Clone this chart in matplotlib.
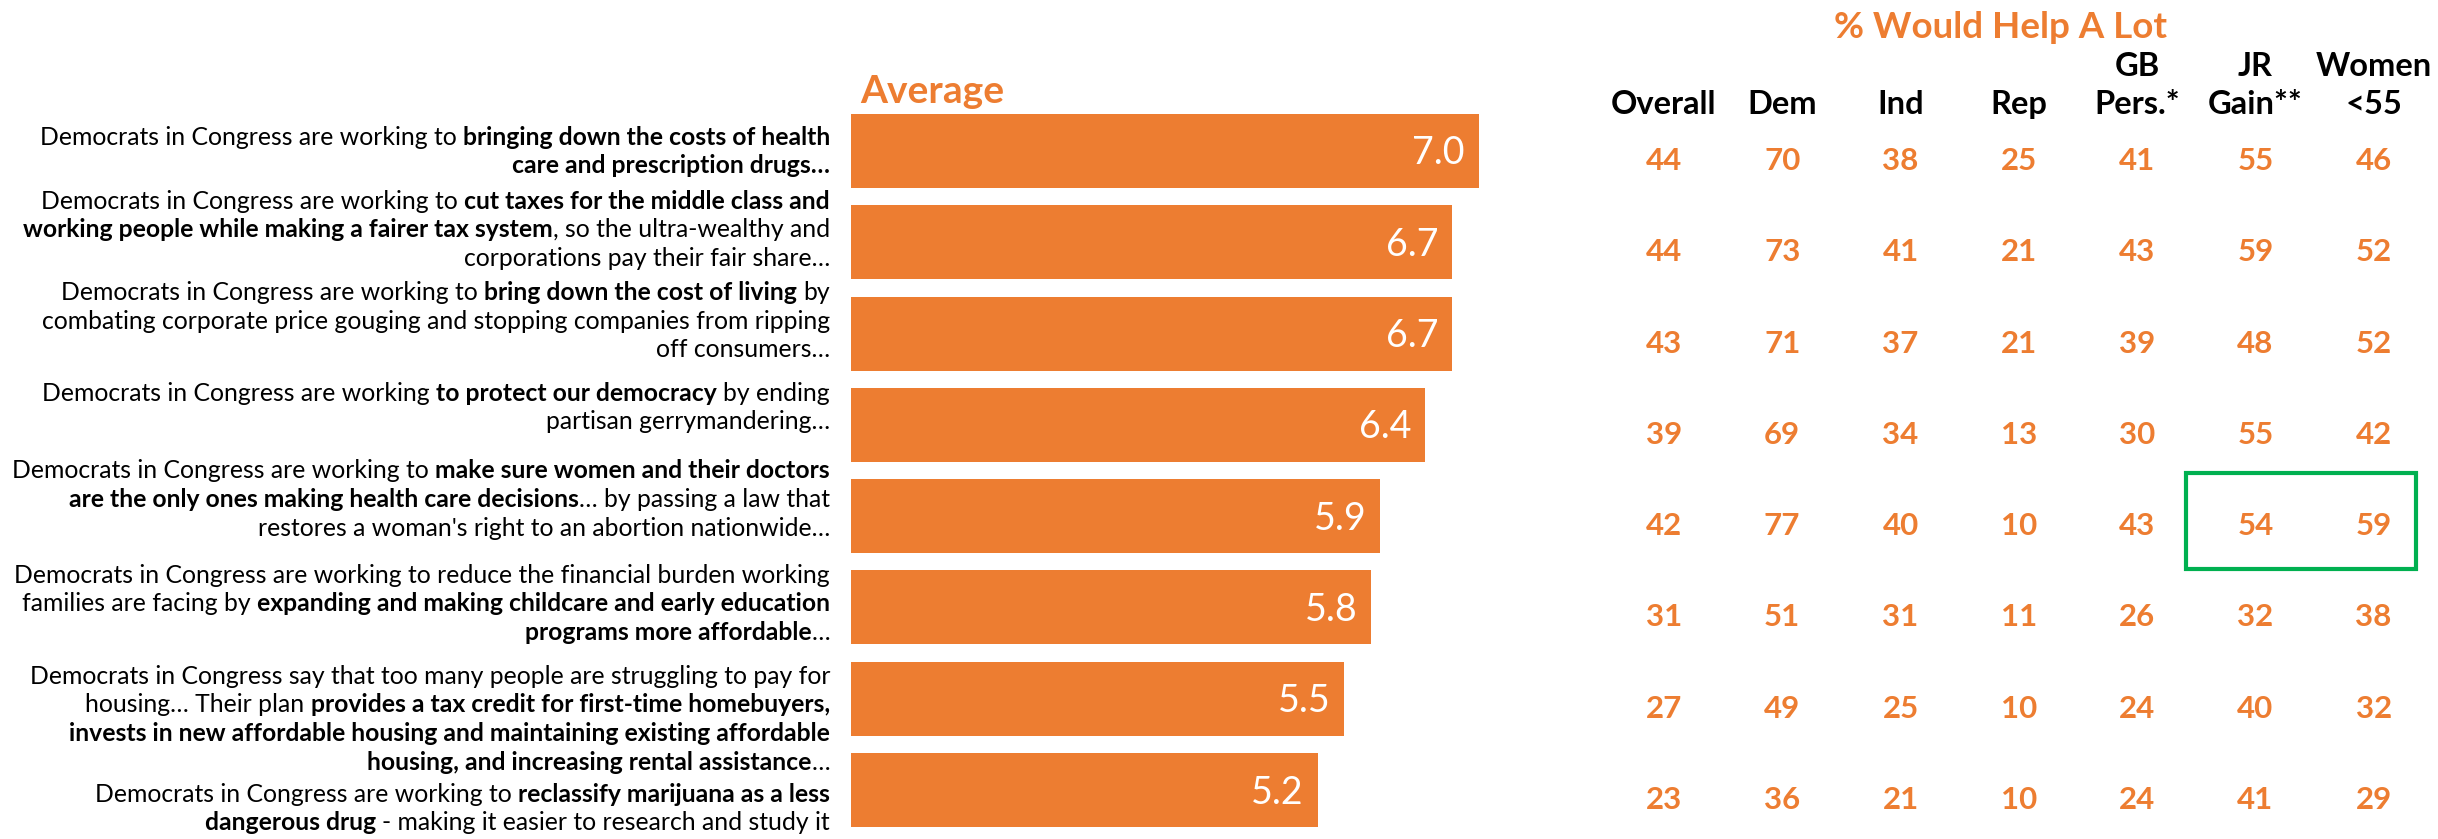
import numpy as np
import matplotlib
matplotlib.use('Agg')
import matplotlib.pyplot as plt
import matplotlib.transforms as mtransforms
from matplotlib.patches import Rectangle

plt.rcParams['font.family'] = ['Lato', 'DejaVu Sans']

# statements (** marks the bold part), one list of lines per bar
labels = [
    ["Democrats in Congress are working to **bringing down the costs of health**",
     "**care and prescription drugs…**"],
    ["Democrats in Congress are working to **cut taxes for the middle class and**",
     "**working people while making a fairer tax system**, so the ultra-wealthy and",
     "corporations pay their fair share…"],
    ["Democrats in Congress are working to **bring down the cost of living** by",
     "combating corporate price gouging and stopping companies from ripping",
     "off consumers…"],
    ["Democrats in Congress are working **to protect our democracy** by ending",
     "partisan gerrymandering…"],
    ["Democrats in Congress are working to **make sure women and their doctors**",
     "**are the only ones making health care decisions**… by passing a law that",
     "restores a woman's right to an abortion nationwide…"],
    ["Democrats in Congress are working to reduce the financial burden working",
     "families are facing by **expanding and making childcare and early education**",
     "**programs more affordable**…"],
    ["Democrats in Congress say that too many people are struggling to pay for",
     "housing… Their plan **provides a tax credit for first-time homebuyers,**",
     "**invests in new affordable housing and maintaining existing affordable**",
     "**housing, and increasing rental assistance**…"],
    ["Democrats in Congress are working to **reclassify marijuana as a less**",
     "**dangerous drug** - making it easier to research and study it"],
]

averages = [7.0, 6.7, 6.7, 6.4, 5.9, 5.8, 5.5, 5.2]

col_top = ["", "", "", "", "GB", "JR", "Women"]
col_bottom = ["Overall", "Dem", "Ind", "Rep", "Pers.*", "Gain**", "<55"]

overall = [44, 44, 43, 39, 42, 31, 27, 23]
dem = [70, 73, 71, 69, 77, 51, 49, 36]
ind = [38, 41, 37, 34, 40, 31, 25, 21]
rep = [25, 21, 21, 13, 10, 11, 10, 10]
gb_pers = [41, 43, 39, 30, 43, 26, 24, 24]
jr_gain = [55, 59, 48, 55, 54, 32, 40, 41]
women_u55 = [46, 52, 52, 42, 59, 38, 32, 29]

highlight_row = 4
highlight_cols = (5, 6)

ORANGE = '#ED7D31'
GREEN = '#00B050'

# vertical nudge of each label block (pixels, down is positive)
label_shift = [1, -12, -12, -17, -16, -3, 21, 19]
line_gap = 28.7
label_size = 17.8

W, H = 2438, 839
fig = plt.figure(figsize=(W / 100, H / 100), dpi=100)
renderer = fig.canvas.get_renderer()

n = len(averages)
rows = np.arange(n)
bottom, height = 3.35 / H, 730.3 / H

ax = fig.add_axes([851 / W, bottom, 628 / W, height])
ax.barh(rows, averages, height=0.81, color=ORANGE)
ax.set_xlim(0, 7.0)
ax.set_ylim(n - 0.5, -0.5)
ax.axis('off')

for i, v in enumerate(averages):
    ax.annotate(f'{v:.1f}', xy=(v, i), xytext=(-14, -13.5), textcoords='offset pixels',
                ha='right', va='baseline', color='white', fontsize=27)

ax.annotate('Average', xy=(0, 1), xycoords='axes fraction', xytext=(9, 2),
            textcoords='offset pixels', ha='left', va='baseline',
            color=ORANGE, fontsize=28, fontweight='bold')


def text_width(s, weight):
    t = fig.text(0, 0, s, fontsize=label_size, fontweight=weight)
    w = t.get_window_extent(renderer).width
    t.remove()
    return w


space_w = {w: text_width('x x', w) - text_width('xx', w) for w in ('normal', 'bold')}
base = mtransforms.blended_transform_factory(ax.transAxes, ax.transData)


def rich_line(line, row, dy):
    parts = line.split('**')
    segs = [(p, i % 2 == 1) for i, p in enumerate(parts) if p]
    x = 21
    for s, bold in reversed(segs):
        weight = 'bold' if bold else 'normal'
        n_trail = len(s) - len(s.rstrip(' '))
        n_lead = len(s) - len(s.lstrip(' '))
        x += n_trail * space_w[weight]
        tr = mtransforms.offset_copy(base, fig=fig, x=-x, y=-dy, units='dots')
        t = ax.text(0, row, s.strip(' '), transform=tr, ha='right', va='baseline',
                    fontsize=label_size, fontweight=weight, color='black')
        x += t.get_window_extent(renderer).width + n_lead * space_w[weight]


for i, lines in enumerate(labels):
    k = len(lines)
    for j, line in enumerate(lines):
        dy = label_shift[i] + (j - (k - 1) / 2) * line_gap + 7
        rich_line(line, i, dy)

# table of % would help a lot
tax = fig.add_axes([1604.8 / W, bottom, 828 / W, height])
tax.set_xlim(-0.5, 6.5)
tax.set_ylim(n - 0.5, -0.5)
tax.axis('off')

table = [overall, dem, ind, rep, gb_pers, jr_gain, women_u55]
for c, col in enumerate(table):
    for r, v in enumerate(col):
        tax.annotate(str(v), xy=(c, r), xytext=(0, -19), textcoords='offset pixels',
                     ha='center', va='baseline', color=ORANGE, fontsize=22.5,
                     fontweight='bold')

top_tr = mtransforms.blended_transform_factory(tax.transData, tax.transAxes)
for c in range(len(col_bottom)):
    tax.annotate(col_bottom[c], xy=(c, 1), xycoords=top_tr, xytext=(0, -9),
                 textcoords='offset pixels', ha='center', va='baseline',
                 fontsize=23.5, fontweight='bold', color='black')
    if col_top[c]:
        tax.annotate(col_top[c], xy=(c, 1), xycoords=top_tr, xytext=(0, 29),
                     textcoords='offset pixels', ha='center', va='baseline',
                     fontsize=23.5, fontweight='bold', color='black')

tax.annotate('% Would Help A Lot', xy=(0.4785, 1), xycoords='axes fraction',
             xytext=(0, 67), textcoords='offset pixels', ha='center', va='baseline',
             color=ORANGE, fontsize=26.5, fontweight='bold')

c0, c1 = highlight_cols
tax.add_patch(Rectangle((c0 - 0.59, highlight_row - 0.47), c1 - c0 + 0.95, 1.05,
                        fill=False, edgecolor=GREEN, linewidth=3, clip_on=False))

fig.savefig('out.png', dpi=100)
